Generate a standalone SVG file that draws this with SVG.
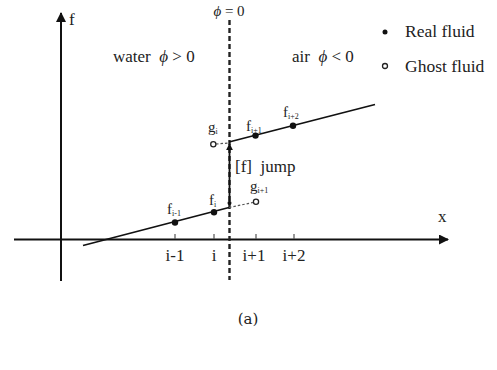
<svg xmlns="http://www.w3.org/2000/svg" width="497" height="370" viewBox="0 0 497 370">
<defs>
<marker id="arr" viewBox="0 0 10 10" refX="9" refY="5" markerWidth="5" markerHeight="5" orient="auto" markerUnits="strokeWidth"><path d="M0,0 L10,5 L0,10 z" fill="#111"/></marker>
<marker id="arrs" viewBox="0 0 10 10" refX="9" refY="5" markerWidth="4" markerHeight="4" orient="auto" markerUnits="strokeWidth"><path d="M0,0 L10,5 L0,10 z" fill="#111"/></marker>
</defs>
<style>
text{font-family:"Liberation Serif","Times New Roman",serif;fill:#222;white-space:pre}
.t{font-size:17px}
.lg{font-size:17.5px}
.s{font-size:15px}
.sub{font-size:8px}
.ax{stroke:#111;stroke-width:2;fill:none}
.ln{stroke:#111;stroke-width:1.8;fill:none}
.dl{stroke:#555;stroke-width:1.2;stroke-dasharray:2.5 2;fill:none}
.real{fill:#111}
.ghost{fill:#fff;stroke:#222;stroke-width:1.3}
.tick{stroke:#555;stroke-width:1.2}
</style>
<rect width="497" height="370" fill="#fff"/>
<g id="axes">
<line class="ax" x1="61" y1="281" x2="61" y2="13" marker-end="url(#arr)"/>
<line class="ax" x1="14" y1="239.5" x2="448" y2="239.5" marker-end="url(#arr)"/>
<text class="t" x="69" y="25">f</text>
<text class="t" x="438" y="222">x</text>
<line class="tick" x1="175" y1="234" x2="175" y2="239"/>
<line class="tick" x1="214" y1="234" x2="214" y2="239"/>
<line class="tick" x1="256" y1="234" x2="256" y2="239"/>
<line class="tick" x1="294" y1="234" x2="294" y2="239"/>
<text class="t" x="175" y="261" text-anchor="middle">i-1</text>
<text class="t" x="214" y="261" text-anchor="middle">i</text>
<text class="t" x="254" y="261" text-anchor="middle">i+1</text>
<text class="t" x="294" y="261" text-anchor="middle">i+2</text>
</g>
<g id="interface">
<line x1="229.5" y1="20" x2="229.5" y2="280" stroke="#222" stroke-width="2.4" stroke-dasharray="5 3"/>
<text class="s" x="229" y="16" text-anchor="middle" font-style="italic">ϕ <tspan font-style="normal">= 0</tspan></text>
</g>
<g id="regions">
<text class="t" x="113" y="62" xml:space="preserve">water  <tspan font-style="italic">ϕ</tspan> &gt; 0</text>
<text class="t" x="292" y="62" xml:space="preserve">air  <tspan font-style="italic">ϕ</tspan> &lt; 0</text>
</g>
<g id="legend">
<circle class="real" cx="385" cy="32" r="2.5"/>
<text class="lg" x="405" y="37">Real fluid</text>
<circle class="ghost" cx="385" cy="66" r="2.5"/>
<text class="lg" x="405" y="72">Ghost fluid</text>
</g>
<g id="connectors">
<line class="ln" x1="83" y1="245.5" x2="229" y2="207.5"/>
<line class="ln" x1="229" y1="142" x2="375" y2="104.5"/>
<line class="dl" x1="216" y1="144" x2="229" y2="143"/>
<line class="dl" x1="229" y1="207.5" x2="253" y2="202.5"/>
<line x1="229.5" y1="205" x2="229.5" y2="144" stroke="#111" stroke-width="1.8" marker-end="url(#arrs)"/>
<circle cx="229.5" cy="203" r="2" fill="#111"/>
</g>
<g id="points">
<circle class="real" cx="175" cy="222.5" r="3.2"/>
<circle class="real" cx="214" cy="212.3" r="3.2"/>
<circle class="real" cx="255.5" cy="135.6" r="3.2"/>
<circle class="real" cx="293" cy="125.8" r="3.2"/>
<circle class="ghost" cx="213.3" cy="144.3" r="2.6"/>
<circle class="ghost" cx="256" cy="201.8" r="2.6"/>
<text class="s" x="167" y="214">f<tspan class="sub" dy="2">i-1</tspan></text>
<text class="s" x="209" y="205">f<tspan class="sub" dy="2">i</tspan></text>
<text class="s" x="246" y="131">f<tspan class="sub" dy="2">i+1</tspan></text>
<text class="s" x="283" y="117">f<tspan class="sub" dy="2">i+2</tspan></text>
<text class="s" x="208" y="132">g<tspan class="sub" dy="2">i</tspan></text>
<text class="s" x="250" y="191">g<tspan class="sub" dy="2">i+1</tspan></text>
<text class="t" x="235" y="172" xml:space="preserve">[f]  jump</text>
</g>
<text x="248" y="324" text-anchor="middle" style="font-size:15px;font-family:'DejaVu Serif',serif">(a)</text>
</svg>
